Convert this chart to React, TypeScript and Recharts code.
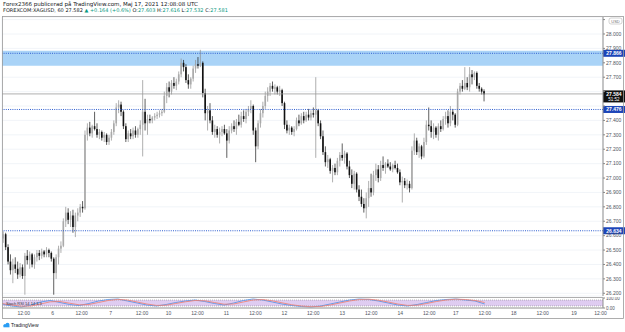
import React from 'react';
import { ComposedChart, Bar, Line, XAxis, YAxis, CartesianGrid, ReferenceLine, ReferenceArea } from 'recharts';

type C = [number, number, number, number];

// hourly candles [open, high, low, close]
const candlesMay05: C[] = [
  [26.58, 26.63, 26.55, 26.61], [26.61, 26.62, 26.50, 26.52], [26.52, 26.54, 26.40, 26.42], [26.42, 26.47, 26.33, 26.36],
  [26.36, 26.44, 26.27, 26.40], [26.40, 26.45, 26.34, 26.37], [26.37, 26.42, 26.30, 26.33], [26.33, 26.41, 26.31, 26.38],
  [26.38, 26.40, 26.30, 26.32], [26.32, 26.48, 26.19, 26.46], [26.46, 26.50, 26.40, 26.43], [26.43, 26.49, 26.37, 26.47],
  [26.47, 26.48, 26.38, 26.40], [26.40, 26.47, 26.37, 26.45], [26.45, 26.50, 26.42, 26.48], [26.48, 26.50, 26.43, 26.46],
  [26.46, 26.51, 26.44, 26.49], [26.49, 26.50, 26.45, 26.47], [26.47, 26.52, 26.45, 26.50], [26.50, 26.51, 26.45, 26.48],
  [26.48, 26.49, 26.42, 26.44],
];
const candlesMay06: C[] = [
  [26.44, 26.45, 26.19, 26.34], [26.34, 26.47, 26.30, 26.45], [26.45, 26.53, 26.40, 26.51], [26.51, 26.56, 26.48, 26.53],
  [26.53, 26.72, 26.52, 26.70], [26.70, 26.80, 26.66, 26.76], [26.76, 26.79, 26.68, 26.71], [26.71, 26.77, 26.66, 26.74],
  [26.74, 26.78, 26.62, 26.66], [26.66, 26.76, 26.59, 26.74], [26.74, 26.79, 26.70, 26.76], [26.76, 26.82, 26.73, 26.80],
  [26.80, 26.84, 26.76, 26.79], [26.79, 27.33, 26.78, 27.30], [27.30, 27.38, 27.26, 27.35], [27.35, 27.39, 27.29, 27.31],
  [27.31, 27.37, 27.28, 27.36], [27.36, 27.46, 27.33, 27.34], [27.34, 27.38, 27.28, 27.30], [27.30, 27.34, 27.27, 27.32],
  [27.32, 27.33, 27.26, 27.28], [27.28, 27.32, 27.25, 27.30], [27.30, 27.31, 27.23, 27.25], [27.25, 27.30, 27.23, 27.28],
];
const candlesMay07: C[] = [
  [27.28, 27.34, 27.26, 27.32], [27.32, 27.40, 27.30, 27.38], [27.38, 27.52, 27.36, 27.49], [27.49, 27.54, 27.45, 27.51],
  [27.51, 27.53, 27.43, 27.46], [27.46, 27.47, 27.34, 27.36], [27.36, 27.38, 27.25, 27.27], [27.27, 27.33, 27.25, 27.31],
  [27.31, 27.34, 27.27, 27.29], [27.29, 27.35, 27.27, 27.33], [27.33, 27.36, 27.28, 27.30], [27.30, 27.35, 27.28, 27.34],
  [27.34, 27.40, 27.30, 27.37], [27.37, 27.68, 27.15, 27.46], [27.46, 27.55, 27.33, 27.38], [27.38, 27.44, 27.30, 27.41],
  [27.41, 27.44, 27.38, 27.40], [27.40, 27.43, 27.38, 27.42], [27.42, 27.45, 27.40, 27.43], [27.43, 27.46, 27.41, 27.44],
  [27.44, 27.47, 27.42, 27.45], [27.45, 27.48, 27.43, 27.46],
];
const candlesMay10: C[] = [
  [27.46, 27.60, 27.45, 27.57], [27.57, 27.66, 27.52, 27.63], [27.63, 27.67, 27.56, 27.60], [27.60, 27.68, 27.58, 27.66],
  [27.66, 27.70, 27.62, 27.64], [27.64, 27.69, 27.61, 27.67], [27.67, 27.74, 27.65, 27.72], [27.72, 27.83, 27.70, 27.80],
  [27.80, 27.82, 27.74, 27.77], [27.77, 27.79, 27.66, 27.68], [27.68, 27.72, 27.62, 27.65], [27.65, 27.70, 27.62, 27.69],
  [27.69, 27.78, 27.67, 27.76], [27.76, 27.82, 27.73, 27.79], [27.79, 27.84, 27.76, 27.78], [27.78, 27.89, 27.77, 27.80],
  [27.80, 27.81, 27.56, 27.59], [27.59, 27.62, 27.40, 27.45], [27.45, 27.50, 27.33, 27.47], [27.47, 27.52, 27.38, 27.40],
  [27.40, 27.43, 27.30, 27.32], [27.32, 27.37, 27.28, 27.34], [27.34, 27.36, 27.28, 27.30], [27.30, 27.35, 27.24, 27.32],
  [27.32, 27.36, 27.29, 27.34], [27.34, 27.37, 27.30, 27.31],
];
const candlesMay11: C[] = [
  [27.31, 27.34, 27.14, 27.26], [27.26, 27.36, 27.24, 27.33], [27.33, 27.38, 27.31, 27.36], [27.36, 27.40, 27.32, 27.34],
  [27.34, 27.41, 27.30, 27.39], [27.39, 27.44, 27.36, 27.37], [27.37, 27.46, 27.35, 27.43], [27.43, 27.47, 27.39, 27.41],
  [27.41, 27.48, 27.38, 27.46], [27.46, 27.50, 27.43, 27.48], [27.48, 27.54, 27.45, 27.50], [27.50, 27.51, 27.30, 27.33],
  [27.33, 27.35, 27.11, 27.22], [27.22, 27.40, 27.20, 27.38], [27.38, 27.48, 27.35, 27.45], [27.45, 27.53, 27.42, 27.50],
  [27.50, 27.60, 27.48, 27.57], [27.57, 27.63, 27.53, 27.60], [27.60, 27.66, 27.57, 27.64], [27.64, 27.67, 27.60, 27.62],
  [27.62, 27.65, 27.58, 27.63], [27.63, 27.64, 27.58, 27.60], [27.60, 27.64, 27.57, 27.61], [27.61, 27.62, 27.50, 27.52],
];
const candlesMay12: C[] = [
  [27.52, 27.53, 27.34, 27.37], [27.37, 27.40, 27.31, 27.33], [27.33, 27.37, 27.30, 27.35], [27.35, 27.36, 27.30, 27.32],
  [27.32, 27.36, 27.29, 27.34], [27.34, 27.42, 27.33, 27.40], [27.40, 27.44, 27.36, 27.38], [27.38, 27.45, 27.37, 27.43],
  [27.43, 27.46, 27.38, 27.40], [27.40, 27.46, 27.39, 27.44], [27.44, 27.48, 27.40, 27.42], [27.42, 27.47, 27.40, 27.45],
  [27.45, 27.49, 27.42, 27.44], [27.44, 27.70, 27.14, 27.47], [27.47, 27.48, 27.36, 27.38], [27.38, 27.40, 27.27, 27.29],
  [27.29, 27.33, 27.16, 27.18], [27.18, 27.22, 27.08, 27.11], [27.11, 27.16, 27.07, 27.13], [27.13, 27.14, 27.03, 27.05],
  [27.05, 27.09, 26.97, 27.07], [27.07, 27.10, 27.02, 27.04], [27.04, 27.14, 27.02, 27.12], [27.12, 27.18, 27.08, 27.16],
];
const candlesMay13: C[] = [
  [27.16, 27.24, 27.12, 27.14], [27.14, 27.19, 27.10, 27.17], [27.17, 27.18, 27.06, 27.08], [27.08, 27.12, 27.00, 27.02],
  [27.02, 27.06, 26.93, 26.96], [26.96, 27.05, 26.92, 27.03], [27.03, 27.04, 26.90, 26.92], [26.92, 26.95, 26.84, 26.87],
  [26.87, 26.92, 26.80, 26.82], [26.82, 26.86, 26.76, 26.79], [26.79, 26.90, 26.72, 26.86], [26.86, 26.98, 26.80, 26.93],
  [26.93, 27.03, 26.87, 26.90], [26.90, 27.05, 26.88, 27.02], [27.02, 27.10, 26.98, 27.06], [27.06, 27.09, 26.97, 27.00],
  [27.00, 27.12, 26.98, 27.09], [27.09, 27.15, 27.05, 27.07], [27.07, 27.11, 27.03, 27.10], [27.10, 27.13, 27.07, 27.08],
  [27.08, 27.11, 27.05, 27.06], [27.06, 27.10, 27.04, 27.09], [27.09, 27.12, 27.06, 27.07], [27.07, 27.10, 27.03, 27.04],
];
const candlesMay14: C[] = [
  [27.04, 27.06, 26.95, 26.97], [26.97, 27.01, 26.83, 26.98], [26.98, 27.00, 26.93, 26.95], [26.95, 26.99, 26.92, 26.96],
  [26.96, 26.98, 26.90, 26.93], [26.93, 27.22, 26.92, 27.19], [27.19, 27.31, 27.16, 27.26], [27.26, 27.28, 27.16, 27.18],
  [27.18, 27.24, 27.14, 27.22], [27.22, 27.23, 27.13, 27.15], [27.15, 27.28, 27.14, 27.25], [27.25, 27.40, 27.23, 27.37],
  [27.37, 27.49, 27.33, 27.36], [27.36, 27.40, 27.28, 27.32], [27.32, 27.38, 27.27, 27.35], [27.35, 27.36, 27.28, 27.30],
  [27.30, 27.38, 27.26, 27.36], [27.36, 27.40, 27.32, 27.34], [27.34, 27.43, 27.33, 27.41], [27.41, 27.46, 27.37, 27.43],
  [27.43, 27.47, 27.35, 27.38], [27.38, 27.50, 27.36, 27.46], [27.46, 27.48, 27.40, 27.44],
];
const candlesMay17: C[] = [
  [27.44, 27.45, 27.35, 27.37], [27.37, 27.62, 27.36, 27.60], [27.60, 27.66, 27.58, 27.64], [27.64, 27.68, 27.60, 27.62],
  [27.62, 27.77, 27.61, 27.66], [27.66, 27.70, 27.61, 27.63], [27.63, 27.77, 27.60, 27.72], [27.72, 27.75, 27.65, 27.70],
  [27.70, 27.74, 27.68, 27.73], [27.73, 27.74, 27.62, 27.64], [27.64, 27.66, 27.60, 27.62], [27.62, 27.63, 27.58, 27.60],
  [27.603, 27.616, 27.532, 27.581],
];

// Stoch RSI sampled every 4 bars
const stochK = [40, 20, 10, 30, 60, 75, 55, 35, 25, 45, 70, 85, 90, 70, 50, 30, 20, 35, 55, 70, 80, 65, 45, 30, 50, 75, 90, 80, 60, 40, 25, 15, 10, 20, 40, 60, 80, 90, 85, 70, 50, 30, 20, 35, 55, 75, 85, 90, 80, 70, 40];
const stochD = [45, 30, 18, 20, 40, 62, 65, 48, 32, 35, 55, 75, 86, 80, 60, 40, 26, 28, 45, 62, 75, 72, 55, 38, 40, 60, 80, 85, 72, 52, 33, 20, 13, 15, 30, 50, 70, 85, 88, 78, 60, 40, 26, 28, 45, 65, 80, 88, 85, 75, 55];

const TOTAL_SLOTS = 250;
const tickSlots = [9, 21, 33, 45, 58, 69, 81, 93, 105, 117, 129, 141, 153, 165, 177, 188, 200, 212, 224, 237, 248];
const tickLabels = ['12:00', '6', '12:00', '7', '12:00', '10', '12:00', '11', '12:00', '12', '12:00', '13', '12:00', '14', '12:00', '17', '12:00', '18', '12:00', '19', '12:00'];
const priceTicks = [26.2, 26.3, 26.4, 26.5, 26.6, 26.7, 26.8, 26.9, 27.0, 27.1, 27.2, 27.3, 27.4, 27.5, 27.6, 27.7, 27.8, 27.9, 28.0, 28.1];

const zoneLow = 27.78;
const zoneHigh = 27.884;
const levelTop = 27.866;
const levelMid = 27.476;
const levelLow = 26.634;
const lastPrice = 27.584;
const badgeLevels = [levelTop, levelMid, levelLow, lastPrice];

const allCandles: C[] = [
  ...candlesMay05, ...candlesMay06, ...candlesMay07, ...candlesMay10, ...candlesMay11,
  ...candlesMay12, ...candlesMay13, ...candlesMay14, ...candlesMay17,
];

const data = Array.from({ length: TOTAL_SLOTS }, (_, i) => {
  const c = allCandles[i];
  const si = i % 4 === 0 ? i / 4 : -1;
  return {
    i,
    o: c ? c[0] : null,
    h: c ? c[1] : null,
    l: c ? c[2] : null,
    c: c ? c[3] : null,
    range: c ? [c[2], c[1]] : null,
    k: si >= 0 && si < stochK.length ? stochK[si] : null,
    d: si >= 0 && si < stochD.length ? stochD[si] : null,
  };
});

const FONT = '"Liberation Sans", Arial, sans-serif';
const HFONT = '"DejaVu Sans", Verdana, sans-serif';

// hide axis labels that sit under a price badge or the currency box (as in the source)
const priceLabel = (v: number) => {
  if (v > 28.05) return '';
  if (badgeLevels.some((b) => Math.abs(b - v) < 0.03)) return '';
  return v.toFixed(3);
};

const Candle = (props: any) => {
  const { x, y, width, height, payload } = props;
  if (!payload || payload.o == null) return null;
  const { o, h, l, c } = payload;
  const top = Math.min(y, y + height);
  const span = Math.abs(height);
  const ppu = span / (h - l);
  const cx = x + width / 2;
  const bTop = top + (h - Math.max(o, c)) * ppu;
  const bBot = top + (h - Math.min(o, c)) * ppu;
  const up = c >= o;
  const bw = 1.6;
  return (
    <g>
      <line x1={cx} x2={cx} y1={top} y2={top + span} stroke={up ? '#8c8c8c' : '#1a1a1a'} strokeWidth={0.7} />
      <rect x={cx - bw / 2} y={bTop} width={bw} height={Math.max(0.7, bBot - bTop)} fill={up ? '#aaaaaa' : '#111111'} />
    </g>
  );
};

const badge = (text: string, bg: string, sub?: string) => (props: any) => {
  const vb = props.viewBox || {};
  const x = (vb.x || 0) + (vb.width || 0);
  const y = vb.y || 0;
  const h = sub ? 12 : 7;
  return (
    <g>
      <rect x={x} y={y - 3.5} width={22} height={h} fill={bg} />
      <text x={x + 11} y={y + 1.9} fill="#ffffff" fontSize={5} fontFamily={FONT} fontWeight="bold" textAnchor="middle">{text}</text>
      {sub ? <text x={x + 11} y={y + 7} fill="#ffffff" fontSize={4.5} fontFamily={FONT} textAnchor="middle">{sub}</text> : null}
    </g>
  );
};

export default function App() {
  return (
    <div style={{ position: 'absolute', left: 0, top: 0, width: 625, height: 332, background: '#ffffff', fontFamily: FONT, overflow: 'hidden' }}>
      <div style={{ position: 'absolute', left: 3, top: 1, fontSize: 5.5, lineHeight: '6px', color: '#131722', whiteSpace: 'nowrap', fontFamily: HFONT }}>
        Forex2366 publicerad på TradingView.com, Maj 17, 2021 12:08:08 UTC
      </div>
      <div style={{ position: 'absolute', left: 3, top: 7, fontSize: 5, lineHeight: '6px', color: '#131722', whiteSpace: 'nowrap', fontFamily: HFONT }}>
        FOREXCOM:XAGUSD, 60 <span>27.582</span> <span style={{ color: '#089981' }}>▲ +0.164 (+0.6%)</span> O:<span style={{ color: '#089981' }}>27.603</span> H:<span style={{ color: '#089981' }}>27.616</span> L:<span style={{ color: '#089981' }}>27.532</span> C:<span style={{ color: '#089981' }}>27.581</span>
      </div>

      <div style={{ position: 'absolute', left: 0, top: 16 }}>
        <ComposedChart width={625} height={281} data={data} margin={{ top: 1, right: 0, bottom: 0, left: 2 }} barCategoryGap="10%">
          <CartesianGrid stroke="#edf1f6" strokeWidth={0.8} />
          <XAxis dataKey="i" type="category" ticks={tickSlots} interval={0} tick={false} tickLine={false} axisLine={false} height={1} />
          <YAxis orientation="right" width={22} domain={[26.181, 28.118]} ticks={priceTicks} allowDataOverflow interval={0}
            tickFormatter={priceLabel} tick={{ fontSize: 5, fill: '#50535e', fontFamily: FONT }}
            tickSize={2} tickMargin={1} tickLine={{ stroke: '#888' }} axisLine={{ stroke: '#8f8f8f' }} />
          <ReferenceArea y1={zoneLow} y2={zoneHigh} fill="#a9d3f7" fillOpacity={1} stroke="none" ifOverflow="hidden" />
          <ReferenceLine y={levelTop} stroke="#2f5fd0" strokeDasharray="1 1.2" strokeWidth={1} label={badge('27.866', '#1d45b8')} />
          <ReferenceLine y={levelMid} stroke="#2f5fd0" strokeDasharray="1 1.2" strokeWidth={1} label={badge('27.476', '#1d45b8')} />
          <ReferenceLine y={levelLow} stroke="#2f5fd0" strokeDasharray="1 1.2" strokeWidth={1} label={badge('26.634', '#1d45b8')} />
          <ReferenceLine y={lastPrice} stroke="#9a9a9a" strokeWidth={0.8} label={badge('27.584', '#111111', '51:52')} />
          <Bar dataKey="range" shape={<Candle />} isAnimationActive={false} />
        </ComposedChart>
      </div>

      <div style={{ position: 'absolute', left: 0, top: 297 }}>
        <ComposedChart width={625} height={22} data={data} margin={{ top: 1, right: 0, bottom: 0, left: 2 }}>
          <XAxis dataKey="i" type="category" ticks={tickSlots} interval={0} height={11}
            tickFormatter={(v: number) => tickLabels[tickSlots.indexOf(v)] ?? ''}
            tick={{ fontSize: 5, fill: '#50535e', fontFamily: FONT }} tickLine={false} tickSize={2} tickMargin={1}
            axisLine={{ stroke: '#8f8f8f' }} />
          <YAxis orientation="right" width={22} domain={[0, 100]} ticks={[0, 100]} interval={0}
            tickFormatter={(v: number) => v.toFixed(2)} tick={{ fontSize: 4.5, fill: '#50535e', fontFamily: FONT }}
            tickSize={2} tickMargin={1} axisLine={{ stroke: '#8f8f8f' }} tickLine={{ stroke: '#888' }} />
          <ReferenceArea y1={20} y2={80} fill="#dcc6ef" fillOpacity={0.9} stroke="none" />
          <ReferenceLine y={80} stroke="#8a8a8a" strokeDasharray="1 1" strokeWidth={0.6} />
          <ReferenceLine y={20} stroke="#8a8a8a" strokeDasharray="1 1" strokeWidth={0.6} />
          <Line dataKey="k" stroke="#4a8fe7" strokeWidth={0.8} dot={false} connectNulls isAnimationActive={false} />
          <Line dataKey="d" stroke="#f07d6e" strokeWidth={0.8} dot={false} connectNulls isAnimationActive={false} />
        </ComposedChart>
      </div>

      <svg width={625} height={332} style={{ position: 'absolute', left: 0, top: 0, pointerEvents: 'none' }}>
        <rect x={2.5} y={16.5} width={621} height={302} fill="none" stroke="#9a9a9a" strokeWidth={0.8} />
        <line x1={2} x2={603} y1={297.5} y2={297.5} stroke="#9a9a9a" strokeWidth={0.8} />
        <rect x={609} y={18} width={13} height={6} rx={2} fill="#ffffff" stroke="#b5b5b5" strokeWidth={0.6} />
        <text x={615.5} y={22.6} fontSize={4} fill="#707070" fontFamily={FONT} textAnchor="middle">USD</text>
        <text x={6} y={304.5} fontSize={4} fill="#333" fontFamily={FONT}>Stoch RSI 14 14 3 3</text>
        <g>
          <circle cx={5} cy={325.5} r={1.6} fill="#2a9df4" />
          <circle cx={7.5} cy={324.8} r={2} fill="#2a9df4" />
          <rect x={3.5} y={325.5} width={6} height={1.8} fill="#2a9df4" />
          <text x={11} y={327.3} fontSize={5} fill="#131722" fontFamily={FONT}>TradingView</text>
        </g>
      </svg>
    </div>
  );
}
